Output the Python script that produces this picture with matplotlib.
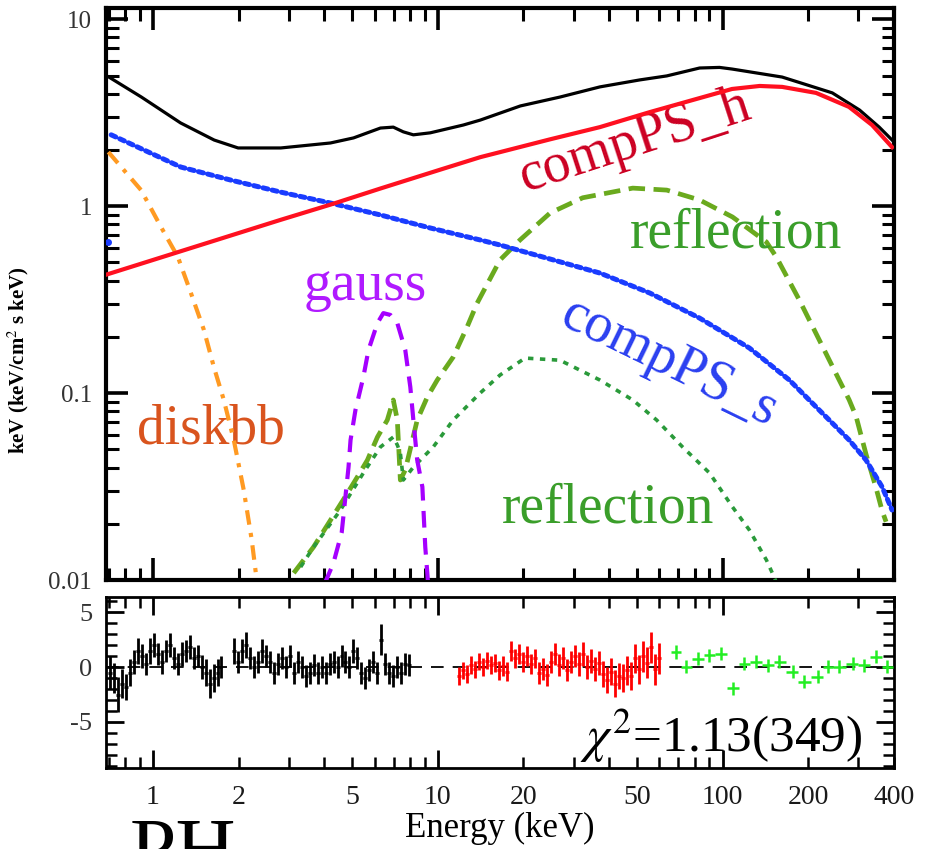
import numpy as np
import matplotlib
matplotlib.use("Agg")
import matplotlib.pyplot as plt
from matplotlib.ticker import FixedLocator, FuncFormatter, LogLocator, MultipleLocator, NullFormatter

plt.rcParams['font.family'] = ['Liberation Serif', 'DejaVu Serif']
plt.rcParams['mathtext.fontset'] = 'stix'
plt.rcParams['axes.unicode_minus'] = False

# ---- model components: E*F_E (keV/cm^2 s keV) vs energy (keV) ----
e_total = [0.70, 0.91, 1.25, 1.64, 1.99, 2.81, 4.20, 5.06, 6.29, 6.98, 7.57, 8.21, 9.41,
           12.3, 14.1, 19.5, 26.9, 37.1, 51.2, 63.7, 83.1, 97.6, 108, 162, 243, 303, 355, 394]
f_total = [4.91, 3.84, 2.79, 2.26, 2.05, 2.05, 2.18, 2.32, 2.62, 2.65, 2.50, 2.41, 2.47,
           2.72, 2.89, 3.44, 3.84, 4.35, 4.74, 4.98, 5.49, 5.53, 5.42, 4.91, 4.04, 3.27, 2.65, 2.26]

e_comp_h = [0.684, 1.25, 2.81, 4.20, 6.29, 10.2, 14.1, 16.6, 24.8, 37.1, 55.6, 83.1, 108,
            135, 162, 213, 278, 335, 394]
f_comp_h = [0.430, 0.574, 0.846, 1.02, 1.244, 1.569, 1.83, 1.95, 2.28, 2.65, 3.19, 3.79, 4.24,
            4.40, 4.35, 4.04, 3.40, 2.72, 2.07]

e_comp_s = [0.713, 1.253, 1.876, 2.808, 4.203, 6.29, 9.41, 14.09, 16.55, 23.4, 37.1, 55.6,
            83.1, 124.3, 171.7, 213.4, 242.8, 278.5, 319.3, 363.4, 393.9]
f_comp_s = [2.41, 1.62, 1.38, 1.19, 1.04, 0.898, 0.765, 0.660, 0.620, 0.535, 0.439, 0.343,
            0.252, 0.1743, 0.1175, 0.0842, 0.0692, 0.0561, 0.0438, 0.0315, 0.0237]
e_comp_s_first = [0.697]
f_comp_s_first = [0.644]

e_diskbb = [0.697, 0.908, 1.067, 1.223, 1.359, 1.509, 1.636, 1.773, 1.922, 2.083, 2.222, 2.313, 2.40]
f_diskbb = [1.95, 1.22, 0.774, 0.535, 0.343, 0.218, 0.1379, 0.0919, 0.0561, 0.0303, 0.0164, 0.0100, 0.0070]

e_gauss = [4.0, 4.3, 4.6, 4.86, 4.94, 5.14, 5.48, 5.71, 6.14, 6.44, 6.82, 7.21, 7.69, 8.01,
           8.21, 8.47, 8.83, 9.04, 9.19, 9.30]
f_gauss = [0.0095, 0.0123, 0.018, 0.0402, 0.0561, 0.0812, 0.122, 0.170, 0.237, 0.268, 0.262,
           0.237, 0.170, 0.1078, 0.0718, 0.0438, 0.0315, 0.0150, 0.0109, 0.0085]

e_refl_hi = [3.12, 3.66, 4.20, 4.82, 5.22, 5.66, 6.14, 6.65, 6.98, 7.21, 7.39, 7.69, 8.47, 9.19,
             9.96, 11.33, 12.68, 13.75, 16.55, 19.45, 24.8, 32.3, 48.4, 63.7, 83.1, 108.4,
             142.6, 154.5, 186.1, 218.7, 256.9, 278.5, 294.5, 319.3, 346.3, 363.4, 375.3]
f_refl_hi = [0.0109, 0.0150, 0.0209, 0.0292, 0.0356, 0.0438, 0.0582, 0.0718, 0.0919, 0.072,
             0.0343, 0.0388, 0.0718, 0.0953, 0.1175, 0.156, 0.226, 0.303, 0.516, 0.660, 0.920,
             1.11, 1.25, 1.22, 1.08, 0.876, 0.644, 0.535, 0.315, 0.1924, 0.1175, 0.092, 0.075,
             0.047, 0.031, 0.0235, 0.0205]

e_refl_lo = [3.30, 3.66, 4.555, 5.48, 6.29, 6.98, 7.21, 7.39, 7.57, 8.21, 9.64, 11.33, 14.09,
             16.55, 20.25, 26.86, 37.1, 48.4, 58.7, 72.4, 90.0, 108.4, 124.3, 142.6, 149.6, 156]
f_refl_lo = [0.01174, 0.0150, 0.0237, 0.0374, 0.0515, 0.0582, 0.0528, 0.0478, 0.0343, 0.0402,
             0.0515, 0.0718, 0.1001, 0.125, 0.154, 0.150, 0.1175, 0.0919, 0.0718, 0.0515,
             0.0374, 0.0246, 0.0185, 0.0128, 0.0109, 0.0094]

# ---- residuals (data - model)/error ----
e_res_k1 = [0.707, 0.730, 0.754, 0.779, 0.804, 0.831, 0.858, 0.886, 0.915, 0.945, 0.976, 1.008,
            1.041, 1.075, 1.111, 1.147, 1.185, 1.223, 1.264, 1.305, 1.348, 1.392, 1.438, 1.484,
            1.533, 1.584, 1.636, 1.689, 1.730]
r_res_k1 = [-0.5, -1.0, -2.5, -1.5, -1.8, -0.5, 0.5, 1.5, 1.0, 0.3, 1.5, 2.0, 1.2, 0.5, 1.5,
            2.0, 0.8, 0.3, 1.2, 1.5, 1.8, 0.8, 1.0, 0.0, -0.5, -1.5, -1.0, -0.5, 0.0]
s_res_k1 = [1.5, 1.4, 1.6, 1.3, 1.2, 1.2, 1.1, 1.2, 1.1, 1.0, 1.2, 1.1, 1.0, 1.1, 1.0, 1.1,
            1.0, 1.0, 1.1, 1.0, 1.1, 1.0, 1.0, 1.1, 1.2, 1.3, 1.3, 1.2, 1.0]

e_res_k2 = [1.921, 1.985, 2.050, 2.117, 2.187, 2.258, 2.332, 2.409, 2.488, 2.570, 2.653, 2.741,
            2.830, 2.923, 3.019, 3.118, 3.221, 3.326, 3.435, 3.548, 3.664, 3.785, 3.909, 4.037,
            4.169, 4.306, 4.446, 4.592, 4.742, 4.898, 5.058, 5.224, 5.395, 5.572, 5.754, 5.943,
            6.138, 6.339, 6.547, 6.761, 6.982, 7.211, 7.447, 7.691, 7.943]
r_res_k2 = [1.5, 0.5, 1.5, 2.0, 0.8, 0.0, 0.5, 1.5, 1.0, 0.5, -0.5, 0.3, 0.8, 0.0, 1.0, -0.5,
            0.5, 0.0, -0.8, -0.5, 0.2, -0.5, 0.0, -0.5, 0.3, 0.5, 0.0, 1.0, 0.5, 0.0, 1.5, 0.8,
            -0.5, -1.0, -0.3, 0.5, -0.5, 2.5, 0.3, -0.5, -0.8, 0.0, -0.5, 0.3, 0.2]
s_res_k2 = [1.2, 1.0, 1.1, 1.2, 1.0, 1.0, 1.0, 1.1, 1.0, 1.0, 1.0, 1.0, 1.0, 1.0, 1.0, 1.0,
            1.0, 1.0, 1.0, 1.0, 1.0, 1.0, 1.0, 1.0, 1.0, 1.0, 1.0, 1.0, 1.0, 1.0, 1.1, 1.0,
            1.0, 1.0, 1.0, 1.0, 1.0, 1.4, 1.0, 1.0, 1.0, 1.0, 1.0, 1.0, 1.0]

e_res_r = [11.89, 12.28, 12.69, 13.10, 13.53, 13.98, 14.43, 14.91, 15.40, 15.90, 16.42, 16.96,
           17.52, 18.09, 18.68, 19.30, 19.93, 20.58, 21.26, 21.95, 22.67, 23.42, 24.18, 24.97,
           25.79, 26.65, 27.52, 28.42, 29.35, 30.31, 31.30, 32.33, 33.39, 34.48, 35.62, 36.78,
           37.99, 39.24, 40.52, 41.85, 43.22, 44.64, 46.10, 47.61, 49.18, 50.79, 52.46, 54.18,
           55.95, 57.79, 59.68]
r_res_r = [-0.8, -0.3, -0.6, 0.2, -0.2, 0.5, 0.0, 0.6, 0.2, 0.4, -0.3, 0.1, -0.4, 1.5, 0.8,
           1.2, 0.5, 1.0, 0.3, 0.8, -0.5, -0.2, -0.7, 0.5, 1.2, 0.2, 0.8, -0.3, 0.5, 1.0, 0.3,
           1.2, 0.0, 0.6, -0.2, 0.4, -0.6, -1.2, -0.4, -1.5, -0.8, -1.0, -0.3, -0.8, 0.8, -0.2,
           1.0, 0.4, 1.8, -0.2, 0.8]
s_res_r = [0.8, 0.8, 0.8, 0.8, 0.8, 0.8, 0.8, 0.8, 0.8, 0.8, 0.9, 0.9, 0.9, 0.9, 0.9, 0.9,
           0.9, 0.9, 0.9, 0.9, 1.0, 1.0, 1.0, 1.0, 1.0, 1.0, 1.0, 1.0, 1.0, 1.0, 1.1, 1.1, 1.1,
           1.1, 1.1, 1.1, 1.2, 1.2, 1.2, 1.2, 1.2, 1.3, 1.3, 1.3, 1.3, 1.3, 1.4, 1.4, 1.4, 1.4, 1.4]

e_res_g = [68.8, 74.6, 81.9, 90.0, 98.95, 108.7, 119.4, 131.2, 144.1, 158.3, 176.3, 193.8,
           215.7, 233.8, 256.9, 286.1, 314.5, 345.5, 379.3]
r_res_g = [1.39, 0.03, 0.79, 1.09, 1.24, -1.94, 0.33, 0.48, 0.18, 0.48, -0.42, -1.33, -0.88,
           0.03, 0.03, 0.33, 0.18, 0.94, 0.03]
s_res_g = [0.6, 0.6, 0.6, 0.6, 0.6, 0.6, 0.6, 0.6, 0.6, 0.6, 0.6, 0.6, 0.6, 0.6, 0.6, 0.6,
           0.6, 0.6, 0.6]


def bin_half_widths(e):
    """Lower/upper half widths of bins whose edges sit midway (in log) between centres."""
    e = np.asarray(e, dtype=float)
    mid = np.sqrt(e[1:] * e[:-1])
    lo = np.concatenate([[e[0] ** 2 / mid[0]], mid])
    hi = np.concatenate([mid, [e[-1] ** 2 / mid[-1]]])
    return np.vstack([e - lo, hi - e])


fig = plt.figure(figsize=(9.26, 8.49), dpi=100)
ax = fig.add_axes([0.1145, 0.3168, 0.8509, 0.6738])
axr = fig.add_axes([0.1145, 0.0954, 0.8509, 0.2014])

E_MIN, E_MAX = 0.684, 400

# ---- upper panel: unfolded model components ----
ax.plot(e_total, f_total, color='black', lw=2.3, zorder=5)
ax.plot(e_comp_h, f_comp_h, color='#ff1020', lw=3.0, zorder=6)
ax.plot(e_comp_s, f_comp_s, color='#1a3cff', lw=3.6, ls=(0, (1.0, 0.9)),
        dash_capstyle='round', zorder=4)
ax.plot(e_comp_s_first, f_comp_s_first, 'o', color='#1a3cff', ms=4, zorder=4)
ax.plot(e_diskbb, f_diskbb, color='#ff9a22', lw=3.0, ls=(0, (3.5, 2, 1, 2)), zorder=4)
ax.plot(e_gauss, f_gauss, color='#a500ff', lw=3.0, ls=(0, (4, 2.5)), zorder=4)
ax.plot(e_refl_hi, f_refl_hi, color='#6aaa1e', lw=3.4, ls=(0, (3.5, 1.8)), zorder=3)
ax.plot(e_refl_lo, f_refl_lo, color='#2a9a3a', lw=2.6, ls=(0, (1.5, 1.8)), zorder=3)

ax.set_xscale('log')
ax.set_yscale('log')
ax.set_xlim(E_MIN, E_MAX)
ax.set_ylim(0.01, 11.5)

ax.xaxis.set_major_locator(FixedLocator([1, 10, 100]))
ax.xaxis.set_minor_locator(LogLocator(base=10, subs=np.arange(2, 10)))
ax.xaxis.set_major_formatter(NullFormatter())
ax.xaxis.set_minor_formatter(NullFormatter())
ax.yaxis.set_major_locator(FixedLocator([0.01, 0.1, 1, 10]))
ax.yaxis.set_minor_locator(LogLocator(base=10, subs=np.arange(2, 10)))
ax.yaxis.set_major_formatter(FuncFormatter(lambda v, p: {0.01: '0.01', 0.1: '0.1', 1: '1', 10: '10'}.get(v, '')))
ax.yaxis.set_minor_formatter(NullFormatter())
ax.tick_params(which='both', direction='in', top=True, right=True)
ax.tick_params(which='major', length=16, width=2.6, labelsize=18, labelcolor='#333333', pad=10)
ax.tick_params(which='minor', length=9, width=2.2)
for s in ax.spines.values():
    s.set_linewidth(3.0)
ax.set_ylabel('keV (keV/cm$^2$ s keV)', fontsize=15, fontweight='bold')
ax.yaxis.set_label_coords(-0.095, 0.385)

txt = dict(transform=ax.transAxes, fontsize=40)
ax.text(0.672, 0.768, 'compPS_h', color='#cc0022', rotation=18, ha='center', va='center',
        rotation_mode='anchor', **txt)
ax.text(0.799, 0.582, 'reflection', color='#3a9e2a', ha='center', va='baseline', **txt)
ax.text(0.3295, 0.4895, 'gauss', color='#b01aff', ha='center', va='baseline', **txt)
ax.text(0.715, 0.38, 'compPS_s', color='#2a3ff0', rotation=-26, ha='center', va='center',
        rotation_mode='anchor', **txt)
ax.text(0.133, 0.2395, 'diskbb', color='#d9541e', ha='center', va='baseline', **txt)
ax.text(0.6375, 0.1014, 'reflection', color='#3a9e2a', ha='center', va='baseline', **txt)

# ---- lower panel: residuals ----
axr.axhline(0, color='black', lw=1.3, ls=(0, (7, 5)), zorder=1)
for e, r, s, c in [(e_res_k1, r_res_k1, s_res_k1, 'black'),
                   (e_res_k2, r_res_k2, s_res_k2, 'black'),
                   (e_res_r, r_res_r, s_res_r, '#ff0000')]:
    axr.errorbar(e, r, yerr=s, xerr=bin_half_widths(e), fmt='none', ecolor=c, elinewidth=2.0,
                 capsize=0, zorder=3)
axr.errorbar(e_res_g, r_res_g, yerr=s_res_g, xerr=bin_half_widths(e_res_g), fmt='none',
             ecolor='#22ee22', elinewidth=1.8, capsize=0, zorder=3)

axr.set_xscale('log')
axr.set_xlim(E_MIN, E_MAX)
axr.set_ylim(-9.2, 6.4)
axr.xaxis.set_major_locator(FixedLocator([1, 10, 100]))
axr.xaxis.set_minor_locator(LogLocator(base=10, subs=np.arange(2, 10)))
shown = {1: '1', 2: '2', 5: '5', 10: '10', 20: '20', 50: '50', 100: '100', 200: '200', 400: '400'}


def energy_label(v, pos):
    return shown.get(int(round(v)), '') if abs(v - round(v)) < 1e-6 else ''


axr.xaxis.set_major_formatter(FuncFormatter(energy_label))
axr.xaxis.set_minor_formatter(FuncFormatter(energy_label))
axr.yaxis.set_major_locator(FixedLocator([-5, 0, 5]))
axr.yaxis.set_minor_locator(MultipleLocator(1))
axr.tick_params(which='both', direction='in', top=True, right=True)
axr.tick_params(which='major', length=13, width=2.0)
axr.tick_params(which='minor', length=8, width=1.8)
axr.tick_params(axis='x', which='both', labelsize=20, labelcolor='#1a1a1a', pad=12)
axr.tick_params(axis='y', which='both', labelsize=19, labelcolor='#333333', pad=10)
for s in axr.spines.values():
    s.set_linewidth(2.0)
axr.set_xlabel('Energy (keV)', fontsize=25, labelpad=2)
axr.text(0.781, 0.094, r'$\chi^2$=1.13(349)', transform=axr.transAxes, fontsize=37,
         ha='center', va='baseline', color='black')

# heading of the next panel, cut by the lower figure edge
fig.text(130 / 926, -0.031, 'PH', fontsize=60, ha='left', va='baseline', color='black')

fig.savefig('out.png', dpi=100)
